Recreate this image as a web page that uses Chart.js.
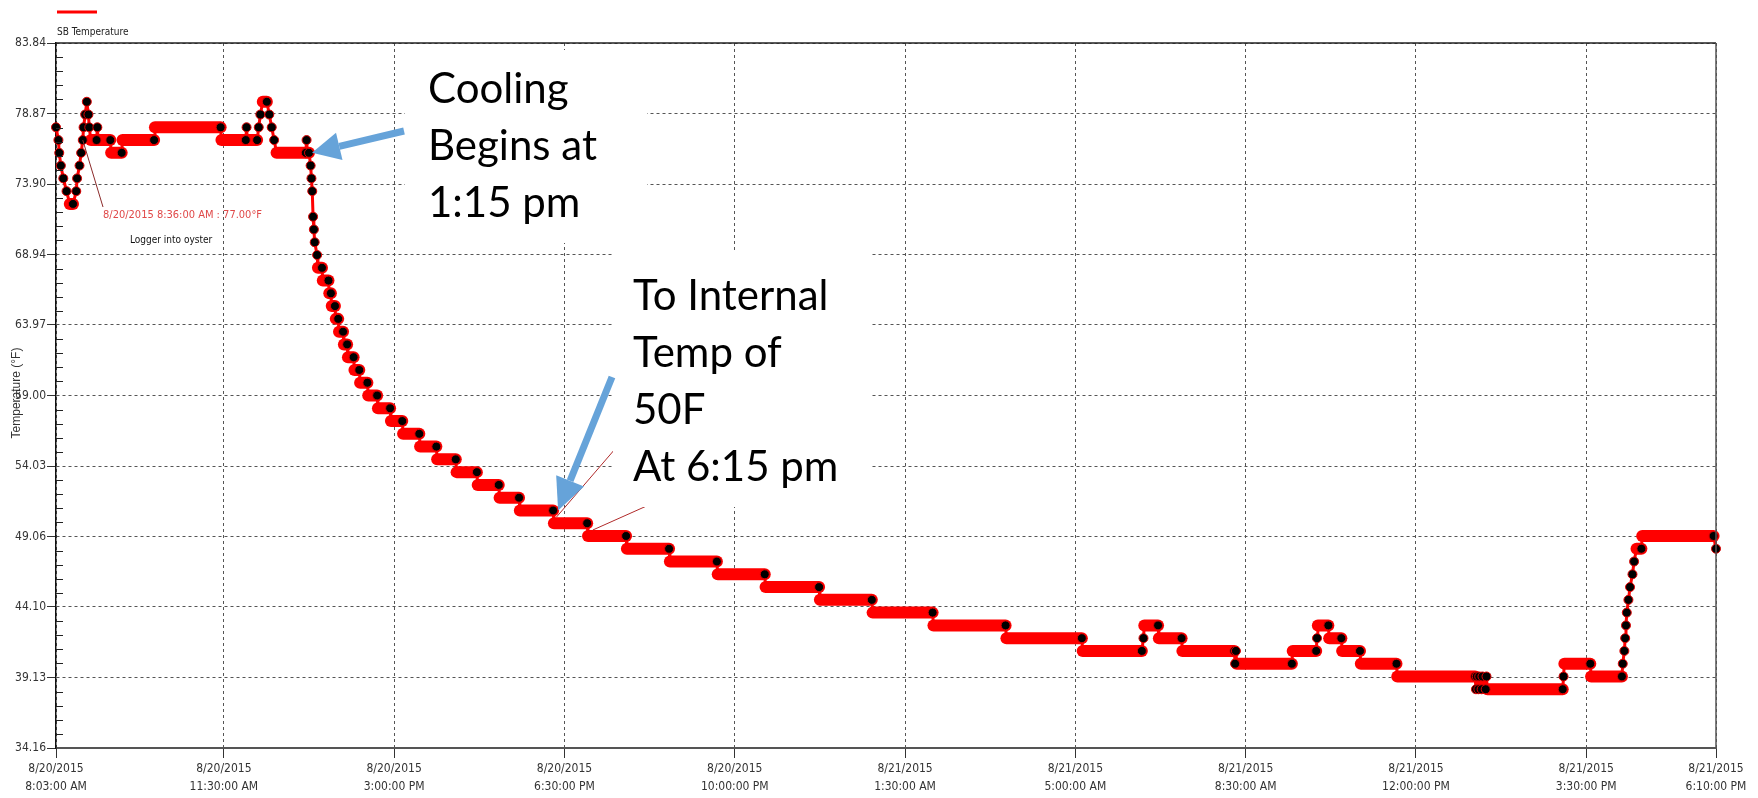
<!DOCTYPE html>
<html lang="en">
<head>
<meta charset="UTF-8">
<title>SB Temperature</title>
<script src="https://cdn.jsdelivr.net/npm/chart.js"></script>
<style>
  html, body { margin: 0; padding: 0; background: #fff; }
</style>
</head>
<body>
<canvas id="myChart" width="1758" height="798"></canvas>
<script>
// logger readings, "day hh:mm" in August 2015, temperature in °F
const readTimes = [
  '20 08:03', '20 08:06', '20 08:07', '20 08:09', '20 08:12', '20 08:16', '20 08:20', '20 08:24',
  '20 08:28', '20 08:29', '20 08:32', '20 08:34', '20 08:36', '20 08:37', '20 08:39', '20 08:41',
  '20 08:43', '20 08:44', '20 08:46', '20 08:53', '20 08:54', '20 08:55', '20 09:10', '20 09:11',
  '20 09:24', '20 09:25', '20 10:04', '20 10:05', '20 11:26', '20 11:27', '20 11:57', '20 11:58',
  '20 11:59', '20 12:11', '20 12:13', '20 12:15', '20 12:18', '20 12:23', '20 12:26', '20 12:29',
  '20 12:32', '20 12:35', '20 13:11', '20 13:12', '20 13:13', '20 13:15', '20 13:17', '20 13:18',
  '20 13:19', '20 13:20', '20 13:21', '20 13:22', '20 13:25', '20 13:26', '20 13:31', '20 13:32',
  '20 13:39', '20 13:40', '20 13:42', '20 13:43', '20 13:47', '20 13:48', '20 13:51', '20 13:52',
  '20 13:57', '20 13:58', '20 14:02', '20 14:03', '20 14:10', '20 14:11', '20 14:17', '20 14:18',
  '20 14:27', '20 14:28', '20 14:39', '20 14:40', '20 14:55', '20 14:56', '20 15:10', '20 15:11',
  '20 15:31', '20 15:32', '20 15:52', '20 15:53', '20 16:16', '20 16:17', '20 16:42', '20 16:43',
  '20 17:09', '20 17:10', '20 17:34', '20 17:35', '20 18:16', '20 18:17', '20 18:58', '20 18:59',
  '20 19:46', '20 19:47', '20 20:39', '20 20:40', '20 21:38', '20 21:39', '20 22:37', '20 22:38',
  '20 23:44', '20 23:45', '21 00:49', '21 00:50', '21 02:04', '21 02:05', '21 03:34', '21 03:35',
  '21 05:08', '21 05:09', '21 06:22', '21 06:24', '21 06:25', '21 06:42', '21 06:43', '21 07:11',
  '21 07:12', '21 08:16', '21 08:17', '21 08:18', '21 08:19', '21 09:27', '21 09:28', '21 09:57',
  '21 09:58', '21 09:59', '21 10:12', '21 10:13', '21 10:28', '21 10:29', '21 10:51', '21 10:52',
  '21 11:36', '21 11:37', '21 13:13', '21 13:14', '21 13:15', '21 13:17', '21 13:18', '21 13:21',
  '21 13:22', '21 13:26', '21 13:27', '21 13:28', '21 15:01', '21 15:02', '21 15:03', '21 15:35',
  '21 15:36', '21 16:14', '21 16:15', '21 16:17', '21 16:18', '21 16:19', '21 16:20', '21 16:22',
  '21 16:24', '21 16:27', '21 16:29', '21 16:32', '21 16:38', '21 16:39', '21 18:07', '21 18:10'
];
const readTemps = [
  77.9, 77.0, 76.1, 75.2, 74.3, 73.4, 72.5, 72.5,
  73.4, 74.3, 75.2, 76.1, 77.0, 77.9, 78.8, 79.7,
  78.8, 77.9, 77.0, 77.0, 77.9, 77.0, 77.0, 76.1,
  76.1, 77.0, 77.0, 77.9, 77.9, 77.0, 77.0, 77.9,
  77.0, 77.0, 77.9, 78.8, 79.7, 79.7, 78.8, 77.9,
  77.0, 76.1, 76.1, 77.0, 76.1, 76.1, 75.2, 74.3,
  73.4, 71.6, 70.7, 69.8, 68.9, 68.0, 68.0, 67.1,
  67.1, 66.2, 66.2, 65.3, 65.3, 64.4, 64.4, 63.5,
  63.5, 62.6, 62.6, 61.7, 61.7, 60.8, 60.8, 59.9,
  59.9, 59.0, 59.0, 58.1, 58.1, 57.2, 57.2, 56.3,
  56.3, 55.4, 55.4, 54.5, 54.5, 53.6, 53.6, 52.7,
  52.7, 51.8, 51.8, 50.9, 50.9, 50.0, 50.0, 49.1,
  49.1, 48.2, 48.2, 47.3, 47.3, 46.4, 46.4, 45.5,
  45.5, 44.6, 44.6, 43.7, 43.7, 42.8, 42.8, 41.9,
  41.9, 41.0, 41.0, 41.9, 42.8, 42.8, 41.9, 41.9,
  41.0, 41.0, 40.1, 41.0, 40.1, 40.1, 41.0, 41.0,
  41.9, 42.8, 42.8, 41.9, 41.9, 41.0, 41.0, 40.1,
  40.1, 39.2, 39.2, 38.3, 39.2, 38.3, 39.2, 38.3,
  39.2, 38.3, 39.2, 38.3, 38.3, 39.2, 40.1, 40.1,
  39.2, 39.2, 40.1, 41.0, 41.9, 42.8, 43.7, 44.6,
  45.5, 46.4, 47.3, 48.2, 48.2, 49.1, 49.1, 48.2
];

const xTickTimes = ['20 08:03', '20 11:30', '20 15:00', '20 18:30', '20 22:00', '21 01:30',
                    '21 05:00', '21 08:30', '21 12:00', '21 15:30', '21 18:10'];
const xTickLabels = [
  ['8/20/2015', '8:03:00 AM'], ['8/20/2015', '11:30:00 AM'], ['8/20/2015', '3:00:00 PM'],
  ['8/20/2015', '6:30:00 PM'], ['8/20/2015', '10:00:00 PM'], ['8/21/2015', '1:30:00 AM'],
  ['8/21/2015', '5:00:00 AM'], ['8/21/2015', '8:30:00 AM'], ['8/21/2015', '12:00:00 PM'],
  ['8/21/2015', '3:30:00 PM'], ['8/21/2015', '6:10:00 PM']
];
const yTickValues = [34.16, 39.13, 44.10, 49.06, 54.03, 59.00, 63.97, 68.94, 73.90, 78.87, 83.84];
const yTickLabels = ['34.16', '39.13', '44.10', '49.06', '54.03', '59.00', '63.97', '68.94', '73.90', '78.87', '83.84'];

const NARROW = "'Liberation Sans Narrow', 'Arial Narrow', 'DejaVu Sans Condensed', sans-serif";
const CALLOUT = "Lato, 'Open Sans', sans-serif";

// minutes since the first reading (8/20 8:03 AM)
function toMinutes(s) {
  const [d, hm] = s.split(' ');
  const [h, m] = hm.split(':').map(Number);
  return (Number(d) - 20) * 1440 + h * 60 + m - (8 * 60 + 3);
}

const points = readTimes.map((t, i) => ({ x: toMinutes(t), y: readTemps[i] }));

function drawArrow(ctx, x1, y1, x2, y2, w, headLen, headW) {
  const a = Math.atan2(y2 - y1, x2 - x1);
  const bx = x2 - headLen * Math.cos(a), by = y2 - headLen * Math.sin(a);
  ctx.save();
  ctx.strokeStyle = ctx.fillStyle = '#66a3d9';
  ctx.lineWidth = w;
  ctx.beginPath(); ctx.moveTo(x1, y1); ctx.lineTo(bx, by); ctx.stroke();
  ctx.beginPath();
  ctx.moveTo(x2, y2);
  ctx.lineTo(bx + headW * Math.sin(a), by - headW * Math.cos(a));
  ctx.lineTo(bx - headW * Math.sin(a), by + headW * Math.cos(a));
  ctx.closePath(); ctx.fill();
  ctx.restore();
}

// legend, frame, minor ticks and the callouts
const decor = {
  id: 'decor',
  afterDraw(chart) {
    const ctx = chart.ctx, area = chart.chartArea;
    const xs = chart.scales.x, ys = chart.scales.y;
    const px = (t, v) => [xs.getPixelForValue(toMinutes(t)), ys.getPixelForValue(v)];
    ctx.save();

    // top & right frame
    ctx.strokeStyle = '#222'; ctx.lineWidth = 1.5;
    ctx.beginPath(); ctx.moveTo(area.left, area.top); ctx.lineTo(area.right, area.top); ctx.stroke();
    ctx.strokeStyle = '#555';
    ctx.beginPath(); ctx.moveTo(area.right, area.top); ctx.lineTo(area.right, area.bottom); ctx.stroke();

    // minor y ticks, 4 between majors, inside the plot
    ctx.strokeStyle = '#222'; ctx.lineWidth = 1;
    for (let i = 0; i < yTickValues.length - 1; i++) {
      const step = (yTickValues[i + 1] - yTickValues[i]) / 5;
      for (let k = 1; k < 5; k++) {
        const y = Math.round(ys.getPixelForValue(yTickValues[i] + k * step)) + 0.5;
        ctx.beginPath(); ctx.moveTo(area.left, y); ctx.lineTo(area.left + 7, y); ctx.stroke();
      }
    }

    // legend
    ctx.strokeStyle = '#ff0000'; ctx.lineWidth = 3;
    ctx.beginPath(); ctx.moveTo(57, 12); ctx.lineTo(97, 12); ctx.stroke();
    ctx.fillStyle = '#222'; ctx.font = '10px ' + NARROW;
    ctx.textBaseline = 'middle'; ctx.textAlign = 'left';
    ctx.fillText('SB Temperature', 57, 32);

    // y title
    ctx.save();
    ctx.translate(17, 393); ctx.rotate(-Math.PI / 2);
    ctx.textAlign = 'center'; ctx.fillStyle = '#333';
    ctx.font = '12px "Liberation Sans", Arial, sans-serif';
    ctx.fillText('Temperature (°F)', 0, 0);
    ctx.restore();

    // logger note
    const [nx, ny] = px('20 08:36', 77.0);
    ctx.strokeStyle = '#8b2a2a'; ctx.lineWidth = 1;
    ctx.beginPath(); ctx.moveTo(nx, ny); ctx.lineTo(103, 207); ctx.stroke();
    ctx.fillStyle = '#e04848'; ctx.font = '11px ' + NARROW;
    ctx.fillText('8/20/2015 8:36:00 AM : 77.00°F', 103, 215);
    ctx.fillStyle = '#111'; ctx.font = '10px ' + NARROW;
    ctx.fillText('Logger into oyster', 130, 240);

    // thin leader lines that run under the second box
    const [l1x, l1y] = px('20 18:20', 50.0);
    const [l2x, l2y] = px('20 19:05', 49.1);
    ctx.strokeStyle = '#b02a2a'; ctx.lineWidth = 1;
    ctx.beginPath(); ctx.moveTo(l1x, l1y - 6); ctx.lineTo(640, 420); ctx.stroke();
    ctx.beginPath(); ctx.moveTo(l2x, l2y - 6); ctx.lineTo(660, 500); ctx.stroke();

    // white callout boxes
    ctx.fillStyle = '#fff';
    ctx.fillRect(405, 50, 242, 193);
    ctx.fillRect(613, 251, 257, 256);

    ctx.fillStyle = '#000'; ctx.font = '42px ' + CALLOUT;
    ctx.textBaseline = 'alphabetic';
    ['Cooling', 'Begins at', '1:15 pm'].forEach((s, i) => ctx.fillText(s, 428, 103 + i * 57));
    ['To Internal', 'Temp of', '50F', 'At 6:15 pm'].forEach((s, i) => ctx.fillText(s, 633, 310 + i * 57));

    // arrows to the two points of interest
    const [a1x, a1y] = px('20 13:15', 76.1);
    drawArrow(ctx, 404, 131, a1x + 3, a1y, 7, 28, 14);
    const [a2x, a2y] = px('20 18:16', 50.9);
    drawArrow(ctx, 612, 377, a2x + 5, a2y, 7, 32, 15);

    ctx.restore();
  }
};

const ctx = document.getElementById('myChart').getContext('2d');
new Chart(ctx, {
  type: 'line',
  data: {
    datasets: [{
      label: 'SB Temperature',
      data: points,
      borderColor: '#ff0000',
      borderWidth: 3,
      borderCapStyle: 'round',
      borderJoinStyle: 'round',
      segment: {
        // level stretches are drawn as thick bars, jumps as thin lines
        borderWidth: c => c.p0.parsed.y === c.p1.parsed.y ? 12 : 3
      },
      pointRadius: c => {
        const i = c.dataIndex;
        return (i === points.length - 1 || points[i + 1].y !== points[i].y) ? 4.5 : 0;
      },
      pointHoverRadius: 0,
      pointBackgroundColor: '#000',
      pointBorderColor: '#e00000',
      pointBorderWidth: 1,
      tension: 0,
      clip: 8
    }]
  },
  options: {
    responsive: false,
    animation: false,
    devicePixelRatio: 1,
    layout: { padding: { top: 43, right: 42, left: 0, bottom: 0 } },
    plugins: { legend: { display: false }, tooltip: { enabled: false } },
    scales: {
      x: {
        type: 'linear',
        min: 0,
        max: toMinutes(xTickTimes[xTickTimes.length - 1]),
        afterBuildTicks: s => { s.ticks = xTickTimes.map(t => ({ value: toMinutes(t) })); },
        afterFit: s => { s.height = 50; },
        ticks: {
          autoSkip: false, maxRotation: 0, padding: 2,
          color: '#333',
          font: { family: NARROW, size: 12, lineHeight: 1.5 },
          callback: (v, i) => xTickLabels[i]
        },
        grid: { color: '#555', tickLength: 10, tickColor: '#333', tickWidth: 1 },
        border: { color: '#555', width: 2, dash: [3, 3] }
      },
      y: {
        min: yTickValues[0],
        max: yTickValues[yTickValues.length - 1],
        afterBuildTicks: s => { s.ticks = yTickValues.map(v => ({ value: v })); },
        afterFit: s => { s.width = 56; },
        ticks: {
          padding: 1, color: '#333',
          font: { family: NARROW, size: 12 },
          callback: (v, i) => yTickLabels[i]
        },
        grid: { color: '#555', tickLength: 9, tickColor: '#333', tickWidth: 1 },
        border: { color: '#111', width: 1.5, dash: [3, 3] }
      }
    }
  },
  plugins: [decor]
});
</script>
</body>
</html>
